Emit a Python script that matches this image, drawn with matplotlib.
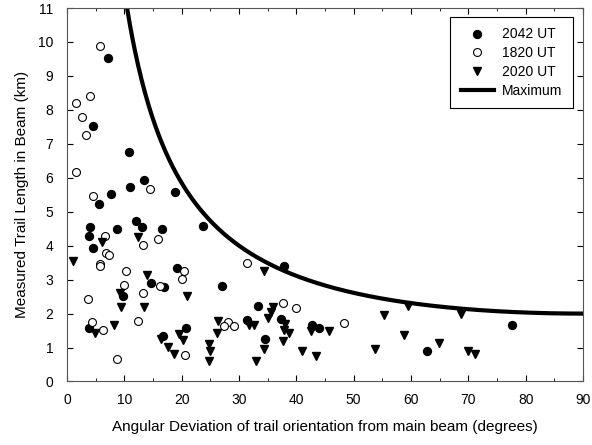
import numpy as np
import matplotlib.pyplot as plt
from matplotlib.ticker import MultipleLocator

plt.rcParams['font.family'] = ['Liberation Sans', 'DejaVu Sans']

# 2042 UT (filled circles)
x_2042 = [7.15, 4.6, 10.8, 13.5, 10.9, 18.8, 7.6, 5.5, 4.0, 3.9, 8.7, 12.1, 13.1,
          16.5, 4.5, 19.1, 14.7, 17.0, 9.7, 3.9, 20.7, 16.7, 23.8, 37.9, 27.0,
          33.3, 31.4, 37.3, 34.6, 42.8, 44.0, 62.8, 77.7]
y_2042 = [9.52, 7.52, 6.76, 5.92, 5.72, 5.58, 5.51, 5.23, 4.54, 4.29, 4.5, 4.72, 4.55,
          4.49, 3.92, 3.33, 2.91, 2.79, 2.53, 1.59, 1.57, 1.33, 4.58, 3.4, 2.8,
          2.21, 1.8, 1.83, 1.26, 1.67, 1.58, 0.89, 1.67]

# 1820 UT (open circles)
x_1820 = [5.8, 4.0, 1.5, 2.7, 3.3, 1.6, 14.4, 4.6, 6.6, 15.8, 13.3, 6.75, 7.3, 5.7,
          5.7, 10.3, 20.4, 20.1, 16.3, 9.9, 13.3, 3.6, 12.4, 4.4, 6.3, 20.6, 8.8,
          31.45, 37.7, 40.0, 28.1, 27.3, 29.1, 48.3]
y_1820 = [9.88, 8.42, 8.2, 7.78, 7.26, 6.17, 5.66, 5.47, 4.29, 4.21, 4.01, 3.78, 3.72, 3.45,
          3.41, 3.24, 3.25, 3.03, 2.8, 2.83, 2.6, 2.42, 1.77, 1.76, 1.53, 0.79, 0.65,
          3.5, 2.31, 2.16, 1.76, 1.63, 1.64, 1.72]

# 2020 UT (triangles)
x_2020 = [12.4, 6.1, 1.0, 14.0, 9.2, 20.9, 9.4, 13.4, 4.9, 8.2, 19.6, 20.2, 16.4, 17.7,
          18.6, 34.4, 36.0, 35.6, 35.0, 31.7, 32.6, 38.1, 37.8, 38.7, 26.3, 26.2, 37.6,
          24.8, 25.0, 24.8, 34.3, 33.0, 42.6, 45.7, 40.9, 43.4, 59.4, 55.3, 58.7, 64.8,
          53.7, 68.7, 70.0, 71.1]
y_2020 = [4.27, 4.12, 3.55, 3.15, 2.61, 2.52, 2.2, 2.19, 1.43, 1.67, 1.39, 1.23, 1.24, 1.03,
          0.8, 3.25, 2.2, 2.05, 1.86, 1.66, 1.65, 1.7, 1.51, 1.43, 1.78, 1.44, 1.19,
          1.11, 0.89, 0.61, 0.96, 0.6, 1.48, 1.48, 0.89, 0.76, 2.22, 1.95, 1.36, 1.14,
          0.96, 2.0, 0.9, 0.82]

# theoretical maximum trail length: beam width / sin(angle)
beam_width = 2.0
angles = np.linspace(10, 90, 400)
max_len = beam_width / np.sin(np.radians(angles))

fig = plt.figure(figsize=(5.92, 4.45), dpi=100)
ax = fig.add_axes([0.1132, 0.1427, 0.8716, 0.8393])

ax.plot(x_2042, y_2042, 'o', color='black', markersize=5.7, label='2042 UT', zorder=3)
ax.plot(x_1820, y_1820, 'o', markerfacecolor='white', markeredgecolor='black',
        markeredgewidth=0.8, markersize=5.7, label='1820 UT', zorder=3)
ax.plot(x_2020, y_2020, 'v', color='black', markersize=6, label='2020 UT', zorder=3)
ax.plot(angles, max_len, '-', color='black', linewidth=3, label='Maximum', zorder=2)

ax.set_xlim(0, 90)
ax.set_ylim(0, 11)
ax.xaxis.set_major_locator(MultipleLocator(10))
ax.xaxis.set_minor_locator(MultipleLocator(5))
ax.yaxis.set_major_locator(MultipleLocator(1))
ax.tick_params(which='both', direction='in', top=True, right=True, labelsize=10)
ax.tick_params(which='major', length=4)
ax.tick_params(which='minor', length=2.5)
ax.tick_params(axis='x', pad=8)
ax.tick_params(axis='y', pad=10)

for sp in ax.spines.values():
    sp.set_color('#555555')

ax.set_xlabel('Angular Deviation of trail orientation from main beam (degrees)', fontsize=11, labelpad=10)
ax.set_ylabel('Measured Trail Length in Beam (km)', fontsize=11, labelpad=6)

leg = ax.legend(loc='upper right', bbox_to_anchor=(0.9806, 0.976), borderaxespad=0,
                fontsize=10, fancybox=False, edgecolor='black', framealpha=1,
                handlelength=2.4, handletextpad=0.6, borderpad=0.75, labelspacing=0.35)
leg.get_frame().set_linewidth(0.8)

plt.savefig('out.png', dpi=100)
